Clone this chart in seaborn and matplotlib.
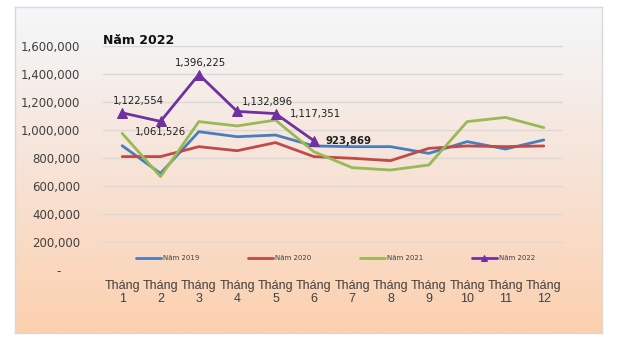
import numpy as np
import pandas as pd
import matplotlib
matplotlib.use("Agg")
import matplotlib.pyplot as plt
from matplotlib.colors import LinearSegmentedColormap
import seaborn as sns

months = ["Tháng\n1", "Tháng\n2", "Tháng\n3", "Tháng\n4", "Tháng\n5", "Tháng\n6",
          "Tháng\n7", "Tháng\n8", "Tháng\n9", "Tháng\n10", "Tháng\n11", "Tháng\n12"]
y2019 = [888000, 690000, 988000, 952000, 964000, 886000, 881000, 881000, 833000, 917000, 864000, 929000]
y2020 = [810000, 810000, 881000, 852000, 910000, 810000, 798000, 781000, 869000, 886000, 881000, 886000]
y2021 = [976000, 667000, 1060000, 1029000, 1071000, 845000, 731000, 714000, 750000, 1060000, 1090000, 1017000]
y2022 = [1122554, 1061526, 1396225, 1132896, 1117351, 923869]
series_names = ["Năm 2019", "Năm 2020", "Năm 2021", "Năm 2022"]
colors = ["#4a7ebb", "#be4b48", "#98b954", "#7030a0"]
yticks = [0, 200000, 400000, 600000, 800000, 1000000, 1200000, 1400000, 1600000]
ytick_labels = ["-     ", "200,000", "400,000", "600,000", "800,000", "1,000,000", "1,200,000", "1,400,000", "1,600,000"]
title = "Năm 2022"

sns.set_theme(style="white")
plt.rcParams['font.family'] = ['DejaVu Sans']

W, H = 640, 346
fig = plt.figure(figsize=(W / 100, H / 100), dpi=100)
fig.patch.set_facecolor("white")

# gradient background box
bg = fig.add_axes([15 / W, 1 - 333 / H, (602 - 15) / W, (333 - 7) / H], zorder=0)
cmap = LinearSegmentedColormap.from_list("bg", ["#f4f7fa", "#f7e3d7", "#fcd0ae"])
grad = np.linspace(0, 1, 256).reshape(-1, 1)
bg.imshow(grad, aspect="auto", cmap=cmap, extent=[0, 1, 0, 1], origin="upper")
bg.set_xticks([]); bg.set_yticks([])
for s in bg.spines.values():
    s.set_color("#d9d9d9"); s.set_linewidth(1)

ax = fig.add_axes([103 / W, 1 - 270 / H, (563 - 103) / W, (270 - 46) / H], zorder=1)
ax.patch.set_alpha(0)

frames = []
for name, vals in zip(series_names, [y2019, y2020, y2021, y2022]):
    frames.append(pd.DataFrame({"x": np.arange(len(vals)), "v": vals, "s": name}))
df = pd.concat(frames, ignore_index=True)

for name, col in zip(series_names, colors):
    d = df[df["s"] == name]
    if name == "Năm 2022":
        sns.lineplot(data=d, x="x", y="v", ax=ax, color=col, lw=2.0, marker="^",
                     markersize=6.5, markeredgecolor=col, label=name, zorder=5)
    else:
        sns.lineplot(data=d, x="x", y="v", ax=ax, color=col, lw=2.0, label=name, zorder=3)

ax.set_xlim(-0.5, 11.5)
ax.set_ylim(0, 1600000)
ax.set_yticks(yticks)
ax.set_yticklabels(ytick_labels, fontsize=8.5, color="#404040")
ax.set_xticks(range(12))
ax.set_xticklabels(months, fontsize=9, color="#404040", family="Liberation Sans", linespacing=1.15)
ax.tick_params(axis="y", length=0, pad=16.5)
ax.tick_params(axis="x", length=0, pad=7)
ax.set_xlabel(""); ax.set_ylabel("")
ax.grid(axis="y", color="#d9d9d9", lw=1)
ax.grid(axis="x", visible=False)
for s in ax.spines.values():
    s.set_visible(False)

# data labels for 2022
offsets = [(16, 12), (0, -11), (2, 12), (30, 9), (40, 0), (35, 0)]
for i, (v, off) in enumerate(zip(y2022, offsets)):
    bold = (i == len(y2022) - 1)
    ax.annotate(f"{v:,}", (i, v), xytext=off, textcoords="offset pixels",
                ha="center", va="center", fontsize=7.3,
                fontweight="bold" if bold else "normal", color="#202020", zorder=6)

leg = ax.legend(loc="center", bbox_to_anchor=(0.505, (270 - 258) / (270 - 46)), ncol=4,
                frameon=False, fontsize=5, handlelength=3.6, handletextpad=0.3,
                columnspacing=7.0, markerscale=0.6)
for t in leg.get_texts():
    t.set_color("#404040")

fig.text(103 / W, 1 - 40 / H, title, fontsize=9, fontweight="bold", va="center", ha="left",
         color="#111111")

fig.savefig("out.png", dpi=100, facecolor="white")
